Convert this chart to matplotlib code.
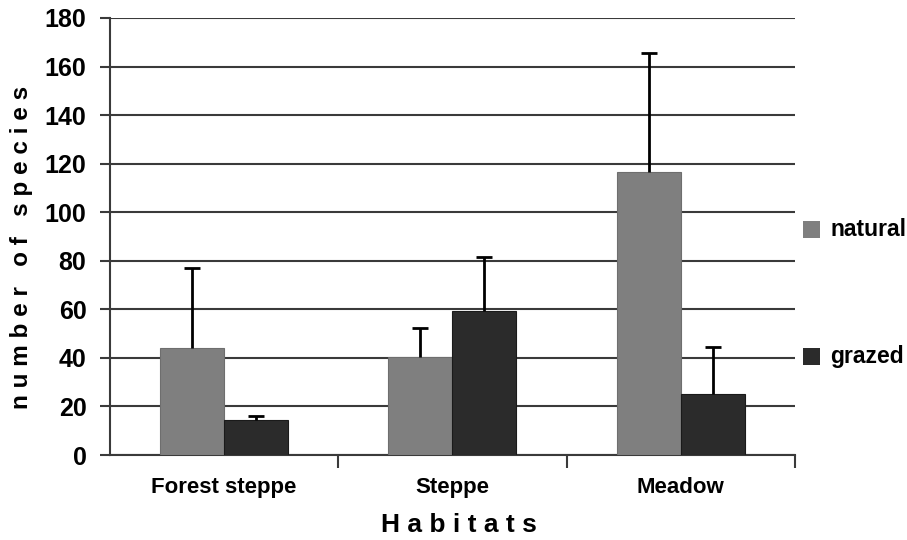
import numpy as np
import matplotlib.pyplot as plt
from matplotlib.patches import Rectangle

plt.rcParams['font.family'] = ['Liberation Sans', 'DejaVu Sans']
plt.rcParams['font.weight'] = 'bold'

habitats = ["Forest steppe", "Steppe", "Meadow"]
natural = [44, 40.5, 116.5]
natural_err = [33, 12, 49]
grazed = [14.5, 59.5, 25]
grazed_err = [1.5, 22, 19.5]
y_ticks = [0, 20, 40, 60, 80, 100, 120, 140, 160, 180]

fig = plt.figure(figsize=(9.07, 5.40), dpi=100)
ax = fig.add_axes([0.1213, 0.1574, 0.755, 0.8093])

x = np.arange(len(habitats))
w = 0.28
c_nat = '#7f7f7f'
c_grz = '#2b2b2b'

ax.bar(x - w / 2, natural, w, color=c_nat, edgecolor='#6e6e6e', linewidth=0.8,
       zorder=3, label='natural')
ax.bar(x + w / 2, grazed, w, color=c_grz, edgecolor='#1a1a1a', linewidth=0.8,
       zorder=3, label='grazed')

# upper-only error bars
for xs, vals, errs in [(x - w / 2, natural, natural_err),
                       (x + w / 2, grazed, grazed_err)]:
    eb = ax.errorbar(xs, vals, yerr=[np.zeros(3), errs], fmt='none',
                     ecolor='black', elinewidth=2, capsize=6, capthick=2,
                     zorder=4)
    eb[1][0].set_visible(False)

ax.set_xlim(-0.5, 2.5)
ax.set_ylim(0, 180)
ax.set_yticks(y_ticks)
ax.set_yticklabels([str(v) for v in y_ticks], fontsize=18, fontweight='bold')
ax.yaxis.grid(True, color='#3a3a3a', linewidth=1.5, zorder=0)
ax.set_axisbelow(True)

ax.set_xticks(x)
ax.set_xticklabels(habitats, fontsize=16, fontweight='bold')
ax.tick_params(axis='x', length=0, pad=16)
ax.set_xticks([0.5, 1.5, 2.5], minor=True)
ax.tick_params(axis='x', which='minor', length=9, width=1.5, color='#3a3a3a')
ax.tick_params(axis='y', length=7, width=1.5, color='#3a3a3a', pad=10)

for s in ['top', 'right']:
    ax.spines[s].set_visible(False)
ax.spines['left'].set_color('#3a3a3a')
ax.spines['left'].set_linewidth(1.5)
ax.spines['bottom'].set_color('#3a3a3a')
ax.spines['bottom'].set_linewidth(1.5)

# legend entries placed at the right of the plot
for yv, col, lab in [(230, c_nat, 'natural'), (357, c_grz, 'grazed')]:
    fy = 1 - yv / 540
    fig.patches.append(Rectangle((803 / 907, fy - 8 / 540), 17 / 907, 17 / 540,
                                 transform=fig.transFigure, facecolor=col,
                                 edgecolor='none'))
    fig.text(830 / 907, fy, lab, fontsize=16.5, fontweight='bold', va='center',
             ha='left')

fig.text(459 / 907, 1 - 525 / 540, "H a b i t a t s", fontsize=19,
         fontweight='bold', ha='center', va='center')
fig.text(22 / 907, 1 - 247 / 540, "n u m b e r   o f   s p e c i e s",
         fontsize=17.5, fontweight='bold', ha='center', va='center', rotation=90)

fig.savefig('out.png', dpi=100)
